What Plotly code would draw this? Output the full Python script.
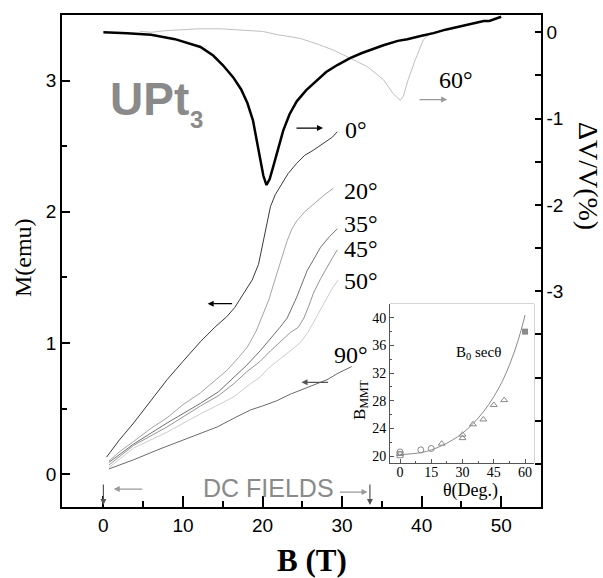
import plotly.graph_objects as go

# ---- magnetization M(B) at several field angles (left axis) ----
B_0 = [0.4, 2, 3.8, 6, 8, 10, 12.2, 14, 15.5, 16.5, 17.6, 18.7, 19.5, 20.4, 21.0, 21.6, 22.2, 23.2, 24.3, 25.3, 26.4, 27.3, 28.1, 28.8, 29.4]
M_0 = [0.13, 0.26, 0.39, 0.56, 0.72, 0.86, 1.01, 1.12, 1.20, 1.27, 1.37, 1.48, 1.60, 1.86, 2.04, 2.13, 2.19, 2.29, 2.37, 2.43, 2.47, 2.51, 2.54, 2.57, 2.61]

B_20 = [0.7, 2, 3.8, 6, 8, 10, 12.2, 14, 15.5, 17, 18.1, 19.2, 20.1, 20.8, 21.4, 22.2, 23.1, 23.7, 24.3, 25.3, 26.4, 27.6, 28.9]
M_20 = [0.10, 0.17, 0.25, 0.35, 0.43, 0.53, 0.62, 0.71, 0.79, 0.89, 0.97, 1.09, 1.22, 1.33, 1.45, 1.60, 1.78, 1.87, 1.93, 2.00, 2.06, 2.12, 2.18]

B_35 = [0.7, 3.8, 8, 12.2, 14.5, 16.4, 18, 19.7, 21, 22.2, 23.1, 24.3, 25.6, 26.5, 27.3, 28.4, 29.4]
M_35 = [0.09, 0.23, 0.39, 0.54, 0.63, 0.74, 0.83, 0.94, 1.03, 1.12, 1.19, 1.35, 1.55, 1.65, 1.73, 1.81, 1.87]

B_45 = [0.7, 3.8, 8, 12.2, 14.5, 16.4, 18, 19.7, 21, 22.2, 23.5, 24.5, 25.2, 25.8, 26.4, 27.3, 28.1, 28.8, 29.4]
M_45 = [0.07, 0.22, 0.36, 0.52, 0.60, 0.69, 0.78, 0.86, 0.94, 1.01, 1.08, 1.12, 1.19, 1.28, 1.38, 1.49, 1.58, 1.65, 1.71]

B_50 = [0.7, 3.8, 8, 12.2, 14.5, 16.4, 18.5, 19.7, 20.6, 22.2, 23.5, 24.7, 25.7, 26.6, 27.4, 28.1, 28.8, 29.5]
M_50 = [0.05, 0.20, 0.32, 0.46, 0.53, 0.59, 0.69, 0.74, 0.80, 0.88, 0.94, 1.00, 1.08, 1.18, 1.27, 1.35, 1.42, 1.48]

B_90 = [0.7, 3.8, 7, 10.1, 14.3, 16.5, 18.5, 20, 21.8, 23.5, 25.2, 26.5, 28.1, 29.5, 31.2]
M_90 = [0.04, 0.11, 0.19, 0.26, 0.36, 0.43, 0.49, 0.52, 0.56, 0.61, 0.65, 0.68, 0.72, 0.77, 0.82]

# ---- ultrasound dV/V (right axis) ----
B_dv0 = [0, 3, 6, 9, 12.2, 13.8, 15, 16.3, 17.3, 18.1, 18.8, 19.3, 19.7, 20.1, 20.5, 20.9, 21.4, 22.0, 22.6, 23.4, 24.3, 25.5, 26.8, 28, 29.4, 31, 32.5, 34, 35.2, 37, 38.2, 40, 41.5, 43, 44.5, 45.7, 46.5, 47.8, 48.5, 49.3, 50]
DV_0 = [0.0, -0.01, -0.03, -0.08, -0.17, -0.27, -0.38, -0.52, -0.66, -0.82, -1.02, -1.25, -1.45, -1.66, -1.77, -1.70, -1.54, -1.33, -1.14, -0.95, -0.80, -0.67, -0.56, -0.46, -0.38, -0.30, -0.24, -0.19, -0.15, -0.10, -0.08, -0.04, -0.01, 0.03, 0.06, 0.08, 0.10, 0.13, 0.13, 0.16, 0.18]

B_dv60 = [4.6, 6, 8, 10, 12, 14.7, 17, 20, 22, 24.7, 27, 29, 31, 33.2, 35.2, 36.4, 37.0, 37.3, 37.7, 38.3, 39.2, 40.2, 41.1, 42.5]
DV_60 = [0.01, 0.0, 0.02, 0.03, 0.04, 0.04, 0.03, 0.01, -0.03, -0.07, -0.14, -0.21, -0.30, -0.40, -0.55, -0.71, -0.76, -0.79, -0.74, -0.55, -0.32, -0.09, -0.01, 0.02]

# ---- inset: B_MMT vs angle ----
theta_fit = [0, 10, 15, 20, 25, 30, 35, 40, 45, 50, 55, 58, 60]
bmmt_fit = [20.2, 20.5, 20.9, 21.5, 22.3, 23.3, 24.7, 26.4, 28.6, 31.4, 35.2, 38.1, 40.4]
theta_circ = [0, 10, 15]
bmmt_circ = [20.6, 20.9, 21.1]
theta_tri = [0, 20, 30, 30, 35, 40, 45, 50]
bmmt_tri = [20.3, 21.8, 23.1, 22.6, 24.6, 25.3, 27.4, 28.1]
theta_sq = [0]
bmmt_sq = [20.2]
theta_fill = [60]
bmmt_fill = [38.0]

SERIF = "Liberation Serif, Times New Roman, serif"
SANS = "Liberation Sans, Arial, sans-serif"

fig = go.Figure()

m_curves = [
    (B_0, M_0, "#3a3a3a"),
    (B_20, M_20, "#a5a5a5"),
    (B_35, M_35, "#707070"),
    (B_45, M_45, "#959595"),
    (B_50, M_50, "#cdcdcd"),
    (B_90, M_90, "#6a6a6a"),
]
for bx, my, col in m_curves:
    fig.add_trace(go.Scatter(x=bx, y=my, mode="lines", line=dict(color=col, width=1),
                             xaxis="x", yaxis="y", hoverinfo="skip"))

fig.add_trace(go.Scatter(x=B_dv60, y=DV_60, mode="lines", line=dict(color="#c0c0c0", width=1),
                         xaxis="x", yaxis="y2"))
fig.add_trace(go.Scatter(x=B_dv0, y=DV_0, mode="lines", line=dict(color="#000000", width=2.5),
                         xaxis="x", yaxis="y2"))

# inset traces
INSET_GRAY = "#8a8a8a"
fig.add_trace(go.Scatter(x=theta_fit, y=bmmt_fit, mode="lines", line=dict(color=INSET_GRAY, width=1, shape="spline"),
                         xaxis="x3", yaxis="y3"))
for tx, by, sym in [(theta_circ, bmmt_circ, "circle-open"),
                    (theta_tri, bmmt_tri, "triangle-up-open"),
                    (theta_sq, bmmt_sq, "square-open")]:
    fig.add_trace(go.Scatter(x=tx, y=by, mode="markers",
                             marker=dict(symbol=sym, size=6, color=INSET_GRAY, line=dict(color=INSET_GRAY, width=1)),
                             xaxis="x3", yaxis="y3"))
fig.add_trace(go.Scatter(x=theta_fill, y=bmmt_fill, mode="markers",
                         marker=dict(symbol="square", size=6, color=INSET_GRAY),
                         xaxis="x3", yaxis="y3"))

tickfont = dict(family=SANS, size=19, color="black")
inset_font = dict(family=SERIF, size=14, color="black")

fig.update_layout(
    width=603, height=578,
    margin=dict(l=62, r=62, t=15, b=71),
    paper_bgcolor="white", plot_bgcolor="white",
    showlegend=False,
    xaxis=dict(range=[-5.2, 55], tickvals=[0, 10, 20, 30, 40, 50], ticks="inside", ticklen=11,
               tickwidth=1.5, tickcolor="black", showline=True, linecolor="black", linewidth=1.5,
               mirror=True, showgrid=False, zeroline=False, tickfont=tickfont,
               minor=dict(tickvals=[5, 15, 25, 35, 45], ticks="inside", ticklen=6, tickcolor="black", tickwidth=1.5),
               domain=[0, 1], anchor="y"),
    yaxis=dict(range=[-0.25, 3.5], tickvals=[0, 1, 2, 3], ticks="inside", ticklen=8, tickwidth=1.5,
               tickcolor="black", showline=True, linecolor="black", linewidth=1.5,
               showgrid=False, zeroline=False, tickfont=tickfont,
               minor=dict(tickvals=[0.5, 1.5, 2.5], ticks="inside", ticklen=5, tickcolor="black", tickwidth=1.5),
               anchor="x"),
    yaxis2=dict(range=[-5.5, 0.2], overlaying="y", side="right", anchor="x",
                tickvals=[0, -1, -2, -3, -4, -5], ticktext=["0", "-1", "-2", "-3", "", ""],
                ticks="inside", ticklen=6, tickwidth=1.5, tickcolor="black",
                showline=True, linecolor="black", linewidth=1.5, showgrid=False, zeroline=False,
                tickfont=tickfont,
                minor=dict(tickvals=[-0.5, -1.5, -2.5, -3.5, -4.5], ticks="inside", ticklen=6,
                           tickcolor="black", tickwidth=1.5)),
    xaxis3=dict(domain=[0.6848, 0.9854], anchor="y3", range=[-4.8, 64.3],
                tickvals=[0, 15, 30, 45, 60], ticks="inside", ticklen=4, tickcolor="#555",
                showline=True, linecolor="#555", linewidth=1, showgrid=False, zeroline=False,
                tickfont=inset_font, ticklabelstandoff=-4,
                minor=dict(tickvals=[7.5, 22.5, 37.5, 52.5], ticks="inside", ticklen=2, tickcolor="#555")),
    yaxis3=dict(domain=[0.0894, 0.4126], anchor="x3", range=[19, 42],
                tickvals=[20, 24, 28, 32, 36, 40], ticks="inside", ticklen=4, tickcolor="#555",
                showline=True, linecolor="#555", linewidth=1, showgrid=False, zeroline=False,
                tickfont=inset_font,
                minor=dict(tickvals=[22, 26, 30, 34, 38], ticks="inside", ticklen=2, tickcolor="#555")),
)

# inset frame
fig.add_shape(type="rect", xref="x3 domain", yref="y3 domain", x0=0, x1=1, y0=0, y1=1,
              line=dict(color="#aaaaaa", width=1), layer="below")

ann = []

def label(text, x, y, xref="x", yref="y", size=24, color="black", family=SERIF, xanchor="left",
          yanchor="middle", angle=0):
    ann.append(dict(text=text, x=x, y=y, xref=xref, yref=yref, showarrow=False, xanchor=xanchor,
                    yanchor=yanchor, textangle=angle, font=dict(family=family, size=size, color=color)))

def arrow(x, y, ax, ay, color="black", yref="y"):
    ann.append(dict(text="", x=x, y=y, xref="x", yref=yref, ax=ax, ay=ay, showarrow=True,
                    arrowhead=2, arrowsize=1, arrowwidth=1.2, arrowcolor=color))

# angle labels
label("0°", 30.1, 2.62)
label("20°", 30.0, 2.16)
label("35°", 30.0, 1.91)
label("45°", 30.0, 1.72)
label("50°", 30.0, 1.47)
label("90°", 28.7, 0.91)
label("60°", 41.9, -0.55, yref="y2")

# sample name
label("<b>UPt</b>", 0.6, 2.86, size=46, color="#8a8a8a", family=SANS)
label("<b>3</b>", 10.6, 2.70, size=24, color="#8a8a8a", family=SANS)

# DC field range
label("DC FIELDS", 12.3, -0.105, size=25, color="#8a8a8a", family=SANS)

# arrows pointing to the relevant axis
arrow(27.6, -1.11, -28, 0, yref="y2")
arrow(43.2, -0.78, -29, 0, color="#999999", yref="y2")
arrow(13.1, 1.30, 26, 0)
arrow(24.9, 0.70, 28, 0, color="#555555")
arrow(1.3, -0.113, 30, 0, color="#999999")
arrow(0, -0.235, 0, -22, color="#555555")
arrow(33.2, -0.136, -29, 0, color="#999999")
arrow(33.5, -0.235, 0, -22, color="#555555")

# axis titles
label("M(emu)", -0.0814, 0.506, xref="paper", yref="paper", size=24, xanchor="center", angle=-90)
label("ΔV/V(%)", 1.098, 0.673, xref="paper", yref="paper", size=28, xanchor="center", angle=90)
label("<b>B (T)</b>", 0.522, -0.108, xref="paper", yref="paper", size=31, xanchor="center")

# inset labels
label("B<sub>MMT</sub>", 0.624, 0.2175, xref="paper", yref="paper", size=17, xanchor="center", angle=-90)
label("θ(Deg.)", 0.852, 0.033, xref="paper", yref="paper", size=18, xanchor="center")
label("B<sub>0</sub> secθ", 37.9, 34.9, xref="x3", yref="y3", size=15, xanchor="center")

fig.update_layout(annotations=ann)

fig.write_html("out.html")
